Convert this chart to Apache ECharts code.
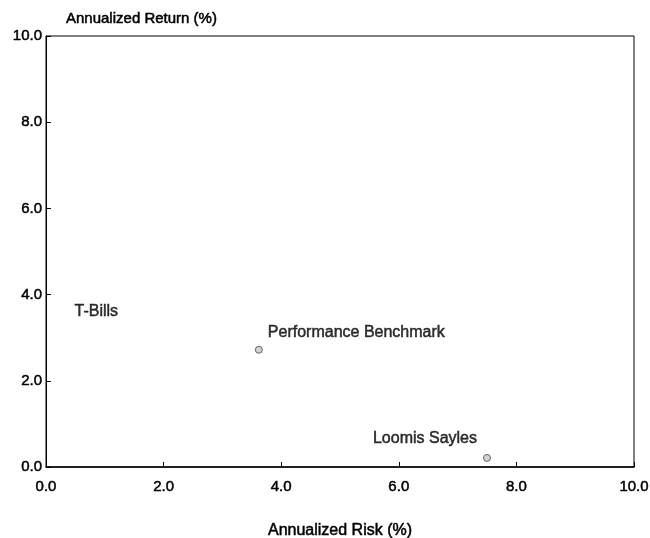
<!DOCTYPE html>
<html>
<head>
<meta charset="utf-8">
<script src="https://cdn.jsdelivr.net/npm/echarts@6/dist/echarts.min.js"></script>
<style>html,body{margin:0;padding:0;background:#fff;}#c{width:650px;height:538px;}</style>
</head>
<body>
<div id="c"></div>
<script>
const names = ["T-Bills", "Performance Benchmark", "Loomis Sayles"];
const risk = [0.4, 3.62, 7.5];
const ret = [3.2, 2.72, 0.21];
const showMarker = [false, true, true];
const xTicks = [0, 2, 4, 6, 8, 10];
const yTicks = [0, 2, 4, 6, 8, 10];

const labelStyles = [
  {position: 'right', offset: [0, -17]},
  {position: 'right', offset: [0, -17]},
  {position: 'left', offset: [-1, -19]}
];

const chart = echarts.init(document.getElementById('c'));
const font = 'Liberation Sans, Arial, sans-serif';
const thick = {textBorderColor: '#000', textBorderWidth: 0.5};
chart.setOption({
  animation: false,
  backgroundColor: '#fff',
  grid: {left: 46, right: 16, top: 36, bottom: 71, show: true, borderColor: '#000', borderWidth: 1, outerBoundsMode: 'none', containLabel: false},
  xAxis: {
    type: 'value', min: 0, max: 10, interval: 2,
    name: 'Annualized Risk (%)', nameLocation: 'middle', nameGap: 56,
    nameTextStyle: Object.assign({color: '#000', fontSize: 16, fontFamily: font}, thick),
    axisLine: {lineStyle: {color: '#000', width: 1.5}},
    axisTick: {inside: true, length: 5, lineStyle: {color: '#000'}},
    axisLabel: Object.assign({color: '#000', fontSize: 15, fontFamily: font, margin: 12, formatter: v => v.toFixed(1)}, thick),
    splitLine: {show: false}
  },
  yAxis: {
    type: 'value', min: 0, max: 10, interval: 2,
    name: 'Annualized Return (%)', nameLocation: 'end', nameGap: 10,
    nameTextStyle: Object.assign({color: '#000', fontSize: 15, fontFamily: font, align: 'left', padding: [0, 0, 0, 20]}, thick),
    axisLine: {lineStyle: {color: '#000', width: 1}},
    axisTick: {inside: true, length: 5, lineStyle: {color: '#000'}},
    axisLabel: Object.assign({color: '#000', fontSize: 15, fontFamily: font, margin: 4, formatter: v => v.toFixed(1)}, thick),
    splitLine: {show: false}
  },
  series: [{
    type: 'scatter',
    symbol: 'circle',
    symbolSize: 7,
    itemStyle: {color: '#c8c8c8', borderColor: '#444', borderWidth: 1},
    label: Object.assign({show: true, color: '#000', fontSize: 16, fontFamily: font, formatter: p => p.name}, thick),
    data: names.map((n, i) => ({
      name: n,
      value: [risk[i], ret[i]],
      symbolSize: showMarker[i] ? 7 : 0,
      label: labelStyles[i]
    }))
  }]
});
</script>
</body>
</html>
